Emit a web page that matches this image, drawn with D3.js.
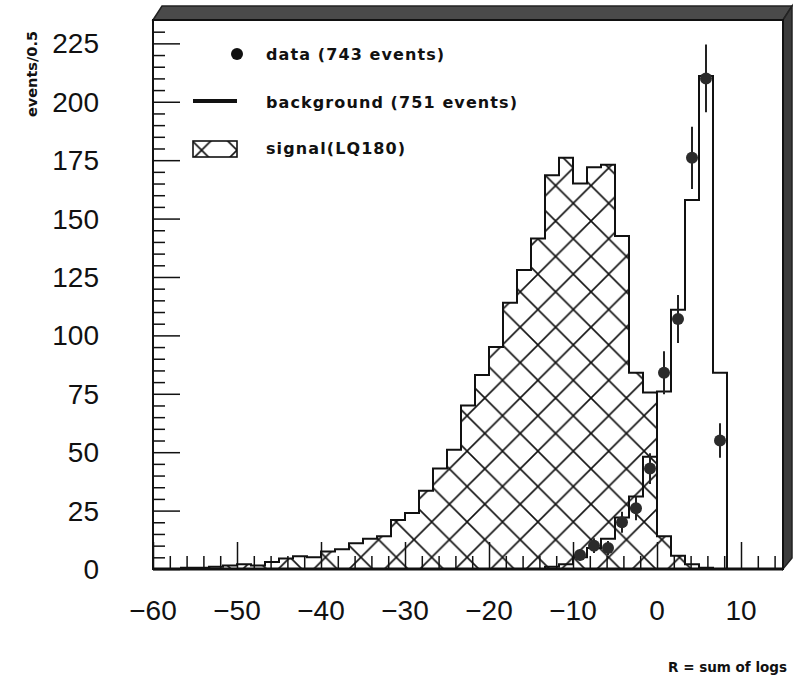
<!DOCTYPE html>
<html><head><meta charset="utf-8">
<script src="https://cdn.jsdelivr.net/npm/d3@7/dist/d3.min.js"></script>
<style>html,body{margin:0;padding:0;background:#fff;}svg{display:block;}</style>
</head><body>
<svg id="c" width="793" height="684"></svg>
<script>
// ---- data (45 bins of width 5/3 from -60 to 15) ----
const binLow = -60, binHigh = 15, nBins = 45;
const signal = [0,0,0.5,0.5,1,1.5,2,1.5,3, 4.5,5.5,5,7.5,8.5,11,13,14,21,24,33.5,
  43,51,70,83,95,114,128,141.5,168.5,176,165,172,173,142.5,84,75.5,14,5.7,2,0.5,0,0,0,0,0];
const background = [0,0,0,0,0,0,0,0,0,0, 0,0,0,0,0,0,0,0,0,0,
  0,0,0,0,0,0,0,0,1,2,5,9,13,22,31,48,76,111,158,211,84,0,0,0,0];
const dataBin = [30,31,32,33,34,35,36,37,38,39,40];
const dataCount = [6,10,9,20,26,43,84,107,176,210,55];
const dataErr = [2.4,3.2,3,4.5,5.1,6.6,9.2,10.3,13.3,14.5,7.4];
const xTicks = [-60,-50,-40,-30,-20,-10,0,10];
const yTicks = [0,25,50,75,100,125,150,175,200,225];
const legendLabels = ["data (743 events)","background (751 events)","signal(LQ180)"];

const svg = d3.select("#c");
const x = d3.scaleLinear().domain([-60,15]).range([153,783]);
const y = d3.scaleLinear().domain([0,235]).range([569,20]);
const bw = (binHigh-binLow)/nBins;
const edge = k => binLow + k*bw;

// hatch pattern
const defs = svg.append("defs");
const P = 35.4;
const pat = defs.append("pattern").attr("id","hatch").attr("patternUnits","userSpaceOnUse")
  .attr("width",P).attr("height",P).attr("x",573.3 % P).attr("y",203.3 % P);
pat.append("path").attr("d",`M${-P/2},${P/2}L${P/2},${-P/2}M0,${P}L${P},0M${P/2},${P*1.5}L${P*1.5},${P/2}`)
  .attr("stroke","#111").attr("stroke-width",1.6).attr("fill","none");
pat.append("path").attr("d",`M${-P/2},${P/2}L${P/2},${P*1.5}M0,0L${P},${P}M${P/2},${-P/2}L${P*1.5},${P/2}`)
  .attr("stroke","#111").attr("stroke-width",1.6).attr("fill","none");

// shadow of frame
const fx0 = x(-60), fx1 = x(15), fy0 = y(235), fy1 = y(0);
svg.append("path").attr("d",`M${fx0},${fy0}L${fx0+9},${fy0-14}L${fx1+9},${fy0-14}L${fx1},${fy0}Z`).attr("fill","#4a4a4a").attr("stroke","#222").attr("stroke-width",1.5);
svg.append("path").attr("d",`M${fx1},${fy0}L${fx1+9},${fy0-14}L${fx1+9},${fy1-11}L${fx1},${fy1}Z`).attr("fill","#3c3c3c").attr("stroke","#222").attr("stroke-width",1.5);

function stepPts(vals){
  const pts=[[x(edge(0)),y(0)]];
  vals.forEach((v,k)=>{pts.push([x(edge(k)),y(v)]);pts.push([x(edge(k+1)),y(v)]);});
  pts.push([x(edge(vals.length)),y(0)]);
  return pts;
}
const line = d3.line();
// signal hatched
const sp = stepPts(signal);
svg.append("path").attr("d",line(sp)+"Z").attr("fill","url(#hatch)").attr("stroke","none");
svg.append("path").attr("d",line(sp)).attr("fill","none").attr("stroke","#111").attr("stroke-width",2);
// background line
svg.append("path").attr("d",line(stepPts(background))).attr("fill","none").attr("stroke","#111").attr("stroke-width",2);

// data points
const g = svg.append("g");
dataBin.forEach((b,i)=>{
  const cx = x(edge(b)+bw/2);
  g.append("line").attr("x1",cx).attr("x2",cx).attr("y1",y(dataCount[i]-dataErr[i])).attr("y2",y(dataCount[i]+dataErr[i]))
    .attr("stroke","#222").attr("stroke-width",2);
  g.append("circle").attr("cx",cx).attr("cy",y(dataCount[i])).attr("r",6).attr("fill","#2b2b2b");
});

// frame
svg.append("rect").attr("x",fx0).attr("y",fy0).attr("width",fx1-fx0).attr("height",fy1-fy0)
  .attr("fill","none").attr("stroke","#111").attr("stroke-width",2);
svg.append("line").attr("x1",fx0).attr("x2",fx1).attr("y1",fy1).attr("y2",fy1).attr("stroke","#111").attr("stroke-width",3);

// ticks (inside)
const xAxis = d3.axisTop(x).tickValues(d3.range(-60,15,2)).tickSize(13).tickFormat("");
const gx = svg.append("g").attr("transform",`translate(0,${fy1})`).call(xAxis);
gx.select(".domain").remove();
gx.selectAll(".tick line").attr("stroke","#111").attr("stroke-width",1.5)
  .attr("y2",d=>xTicks.includes(d)?-27:-13);
const yAxis = d3.axisRight(y).tickValues(d3.range(0,235,5)).tickSize(12).tickFormat("");
const gy = svg.append("g").attr("transform",`translate(${fx0},0)`).call(yAxis);
gy.select(".domain").remove();
gy.selectAll(".tick line").attr("stroke","#111").attr("stroke-width",1.5)
  .attr("x2",d=>yTicks.includes(d)?27:12);

// tick labels
const lab = "Liberation Sans, Arial, sans-serif";
svg.append("g").selectAll("text").data(yTicks).join("text")
  .attr("x",99).attr("y",d=>y(d)+10).attr("text-anchor","end")
  .attr("font-family",lab).attr("font-size",28).attr("fill","#111").text(d=>d);
svg.append("g").selectAll("text").data(xTicks).join("text")
  .attr("x",d=>x(d)).attr("y",620).attr("text-anchor","middle")
  .attr("font-family",lab).attr("font-size",28).attr("fill","#111").text(d=>d<0?"\u2212"+(-d):d);

// axis titles
const tf = "DejaVu Sans, sans-serif";
svg.append("text").attr("transform","translate(37,74) rotate(-90)").attr("text-anchor","middle")
  .attr("font-family",tf).attr("font-weight","bold").attr("font-size",14.5)
  .attr("fill","#111").text("events/0.5");
svg.append("text").attr("x",787).attr("y",672).attr("text-anchor","end")
  .attr("font-family",tf).attr("font-weight","bold").attr("font-size",13.5)
  .attr("fill","#111").text("R = sum of logs");

// legend
svg.append("circle").attr("cx",237).attr("cy",54).attr("r",6).attr("fill","#111");
svg.append("line").attr("x1",193).attr("x2",237).attr("y1",101).attr("y2",101).attr("stroke","#111").attr("stroke-width",4);
svg.append("rect").attr("x",193).attr("y",141).attr("width",44).attr("height",16).attr("fill","url(#hatch)").attr("stroke","#111").attr("stroke-width",1.6);
[60,108,154].forEach((yy,i)=>{
  svg.append("text").attr("x",266).attr("y",yy).attr("font-family",tf).attr("font-weight","bold")
    .attr("font-size",16).attr("letter-spacing",1.1).attr("fill","#111").text(legendLabels[i]);
});
</script>
</body></html>
